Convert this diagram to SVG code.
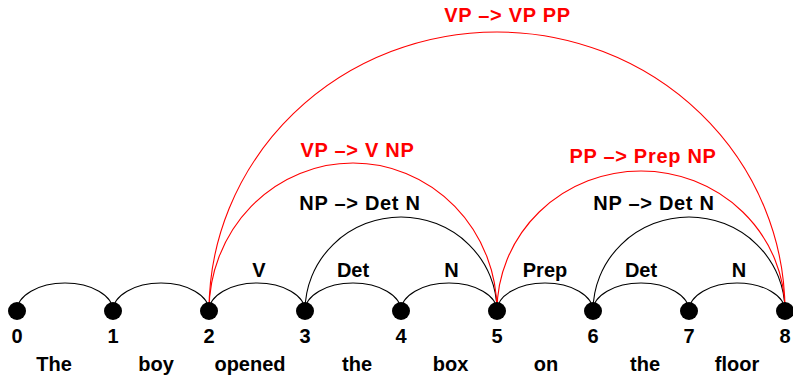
<svg xmlns="http://www.w3.org/2000/svg" width="793" height="377" viewBox="0 0 793 377">
  <style>
    text { font-family: "Liberation Sans", Arial, Helvetica, sans-serif; font-weight: bold; font-size: 20px; text-anchor: middle; }
    .rule { letter-spacing: 0.7px; }
    .red { fill: #ff0000; }
    .arc { fill: none; stroke: #000000; stroke-width: 1.1; }
    .arc.red { fill: none; stroke: #ff0000; }
    .dot { fill: #000000; }
  </style>
  <rect width="793" height="377" fill="#ffffff"/>

  <!-- chart edges: lexical spans, constituents and rule labels -->
  <g id="connectors">
    <path class="arc" d="M17 311 A48 28 0 0 1 113 311"/>
    <path class="arc" d="M113 311 A48 28 0 0 1 209 311"/>
    <path class="arc" d="M209 311 A48 28 0 0 1 305 311"/>
    <path class="arc" d="M305 311 A48 28 0 0 1 401 311"/>
    <path class="arc" d="M401 311 A48 28 0 0 1 497 311"/>
    <path class="arc" d="M497 311 A48 28 0 0 1 593 311"/>
    <path class="arc" d="M593 311 A48 28 0 0 1 689 311"/>
    <path class="arc" d="M689 311 A48 28 0 0 1 785 311"/>
    <path class="arc" d="M305 311 A96 94 0 0 1 497 311"/>
    <path class="arc" d="M593 311 A96 94 0 0 1 785 311"/>
    <path class="arc red" d="M209 311 A144 148 0 0 1 497 311"/>
    <path class="arc red" d="M497 311 A144 140 0 0 1 785 311"/>
    <path class="arc red" d="M209 311 A288 279 0 0 1 785 311"/>

    <text x="259" y="277">V</text>
    <text x="353" y="277">Det</text>
    <text x="451.5" y="277">N</text>
    <text x="545" y="277">Prep</text>
    <text x="641" y="277">Det</text>
    <text x="739" y="277">N</text>
    <text class="rule" x="360" y="210">NP –&gt; Det N</text>
    <text class="rule" x="654" y="210">NP –&gt; Det N</text>
    <text class="rule red" x="357.5" y="157">VP –&gt; V NP</text>
    <text class="rule red" x="643" y="163">PP –&gt; Prep NP</text>
    <text class="rule red" x="507.5" y="22">VP –&gt; VP PP</text>
  </g>

  <!-- chart positions -->
  <g id="node-0"><circle class="dot" cx="17" cy="311" r="9"/><text x="17" y="342.5">0</text></g>
  <g id="node-1"><circle class="dot" cx="113" cy="311" r="9"/><text x="113" y="342.5">1</text></g>
  <g id="node-2"><circle class="dot" cx="209" cy="311" r="9"/><text x="209" y="342.5">2</text></g>
  <g id="node-3"><circle class="dot" cx="305" cy="311" r="9"/><text x="305" y="342.5">3</text></g>
  <g id="node-4"><circle class="dot" cx="401" cy="311" r="9"/><text x="401" y="342.5">4</text></g>
  <g id="node-5"><circle class="dot" cx="497" cy="311" r="9"/><text x="497" y="342.5">5</text></g>
  <g id="node-6"><circle class="dot" cx="593" cy="311" r="9"/><text x="593" y="342.5">6</text></g>
  <g id="node-7"><circle class="dot" cx="689" cy="311" r="9"/><text x="689" y="342.5">7</text></g>
  <g id="node-8"><circle class="dot" cx="785" cy="311" r="9"/><text x="785" y="342.5">8</text></g>

  <!-- sentence words -->
  <g id="words">
    <text x="54" y="371">The</text>
    <text x="156" y="371">boy</text>
    <text x="250" y="371">opened</text>
    <text x="357" y="371">the</text>
    <text x="450.5" y="371">box</text>
    <text x="546" y="371">on</text>
    <text x="645" y="371">the</text>
    <text x="737" y="371">floor</text>
  </g>
</svg>
